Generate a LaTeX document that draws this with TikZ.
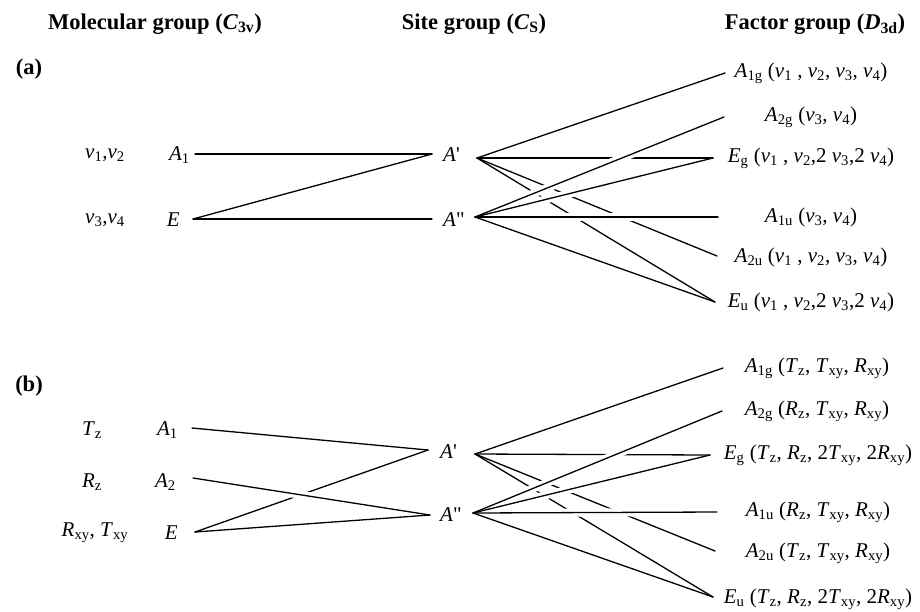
\documentclass[tikz,border=0pt]{standalone}
\usepackage{fontspec}
\setmainfont{Liberation Serif}
\newcommand\sym[2]{\textit{#1}\textsubscript{#2}}
\newcommand\nuu[1]{\textit{ν}\textsubscript{#1}}
\newcommand\Ap{\textit{A}\textquotesingle}
\newcommand\App{\textit{A}\textquotedbl}
\begin{document}
\begin{tikzpicture}[x=1pt,y=-1pt,
  every node/.style={font=\fontsize{21}{25}\selectfont, inner sep=0pt},
  hdr/.style={font=\fontsize{22.5}{27}\selectfont\bfseries},
  ln/.style={line width=1.3pt, line cap=round},
  halo/.style={draw=white, line width=8pt}]
\useasboundingbox (0,0) rectangle (920,611);
% headers
\node[hdr] (h1) at (155,24) {Molecular group (\textit{C}\textsubscript{3v})};
\node[hdr] (h2) at (474,24) {Site group (\textit{C}\textsubscript{S})};
\node[hdr] (h3) at (815,24) {Factor group (\textit{D}\textsubscript{3d})};
\node[hdr] (la) at (29,69) {(a)};
\node[hdr] (lb) at (29,386) {(b)};
% ---------------- (a) ----------------
\node (an12) at (105,155) {\nuu{1},\nuu{2}};
\node (an34) at (105,220) {\nuu{3},\nuu{4}};
\node[anchor=east] (aA1) at (190,155) {\sym{A}{1}};
\node[anchor=east] (aE) at (180,220) {\textit{E}};
\node[anchor=west] (aAp) at (443,155) {\Ap};
\node[anchor=west] (aApp) at (443,220) {\App};
\node (aA1g) at (811,73) {\sym{A}{1g} (\nuu{1} , \nuu{2}, \nuu{3}, \nuu{4})};
\node (aA2g) at (811,117) {\sym{A}{2g} (\nuu{3}, \nuu{4})};
\node (aEg) at (811,158) {\sym{E}{g} (\nuu{1} , \nuu{2},2 \nuu{3},2 \nuu{4})};
\node (aA1u) at (811,217) {\sym{A}{1u} (\nuu{3}, \nuu{4})};
\node (aA2u) at (811,257) {\sym{A}{2u} (\nuu{1} , \nuu{2}, \nuu{3}, \nuu{4})};
\node (aEu) at (811,302) {\sym{E}{u} (\nuu{1} , \nuu{2},2 \nuu{3},2 \nuu{4})};
\coordinate (aA1s) at (195,154);
\coordinate (aEs) at (193,219);
\coordinate (aApL) at (432,154);
\coordinate (aAppL) at (432,219);
\coordinate (aApR) at (477,158);
\coordinate (aAppR) at (475,217);
\coordinate (aeA1g) at (725,73);
\coordinate (aeA2g) at (724,117);
\coordinate (aeEg) at (713,158);
\coordinate (aeA1u) at (718,217);
\coordinate (aeA2u) at (717,256);
\coordinate (aeEu) at (715,302);
\draw[ln] (aA1s) -- (aApL);
\draw[ln] (aEs) -- (aApL);
\draw[ln] (aEs) -- (aAppL);
\draw[ln] (aApR) -- (aeA1g);
\draw[ln] (aApR) -- (aeEg);
\draw[ln] (aApR) -- (aeA2u);
\draw[ln] (aApR) -- (aeEu);
\draw[halo, shorten <=12pt, shorten >=10pt] (aAppR) -- (aeA2g);
\draw[halo, shorten <=12pt, shorten >=110pt] (aAppR) -- (aeEg);
\draw[halo, shorten <=12pt, shorten >=10pt] (aAppR) -- (aeA1u);
\draw[ln] (aAppR) -- (aeA2g);
\draw[ln] (aAppR) -- (aeEg);
\draw[ln] (aAppR) -- (aeA1u);
\draw[ln] (aAppR) -- (aeEu);
% ---------------- (b) ----------------
\node (bTz) at (92,430) {\sym{T}{z}};
\node (bRz) at (92,482) {\sym{R}{z}};
\node (bRT) at (95,533) {\sym{R}{xy}, \sym{T}{xy}};
\node[anchor=east] (bA1) at (178,430) {\sym{A}{1}};
\node[anchor=east] (bA2) at (176,482) {\sym{A}{2}};
\node[anchor=east] (bE) at (178,533) {\textit{E}};
\node[anchor=west] (bAp) at (440,452) {\Ap};
\node[anchor=west] (bApp) at (440,515) {\App};
\node (bA1g) at (817,368) {\sym{A}{1g} (\sym{T}{z}, \sym{T}{xy}, \sym{R}{xy})};
\node (bA2g) at (817,411) {\sym{A}{2g} (\sym{R}{z}, \sym{T}{xy}, \sym{R}{xy})};
\node (bEg) at (818,455) {\sym{E}{g} (\sym{T}{z}, \sym{R}{z}, 2\sym{T}{xy}, 2\sym{R}{xy})};
\node (bA1u) at (818,512) {\sym{A}{1u} (\sym{R}{z}, \sym{T}{xy}, \sym{R}{xy})};
\node (bA2u) at (818,553) {\sym{A}{2u} (\sym{T}{z}, \sym{T}{xy}, \sym{R}{xy})};
\node (bEu) at (818,599) {\sym{E}{u} (\sym{T}{z}, \sym{R}{z}, 2\sym{T}{xy}, 2\sym{R}{xy})};
\coordinate (bA1s) at (192,428);
\coordinate (bA2s) at (193,478);
\coordinate (bEs) at (195,532);
\coordinate (bApL) at (428,450);
\coordinate (bAppL) at (430,515);
\coordinate (bApR) at (475,454);
\coordinate (bAppR) at (473,513);
\coordinate (beA1g) at (723,368);
\coordinate (beA2g) at (722,411);
\coordinate (beEg) at (710,455);
\coordinate (beA1u) at (717,512);
\coordinate (beA2u) at (715,551);
\coordinate (beEu) at (713,597);
\draw[ln] (bA1s) -- (bApL);
\draw[ln] (bEs) -- (bApL);
\draw[ln] (bEs) -- (bAppL);
\draw[halo, shorten <=12pt, shorten >=60pt] (bA2s) -- (bAppL);
\draw[ln] (bA2s) -- (bAppL);
\draw[ln] (bApR) -- (beA1g);
\draw[ln] (bApR) -- (beEg);
\draw[ln] (bApR) -- (beA2u);
\draw[ln] (bApR) -- (beEu);
\draw[halo, shorten <=12pt, shorten >=10pt] (bAppR) -- (beA2g);
\draw[halo, shorten <=12pt, shorten >=110pt] (bAppR) -- (beEg);
\draw[halo, shorten <=12pt, shorten >=10pt] (bAppR) -- (beA1u);
\draw[ln] (bAppR) -- (beA2g);
\draw[ln] (bAppR) -- (beEg);
\draw[ln] (bAppR) -- (beA1u);
\draw[ln] (bAppR) -- (beEu);
\end{tikzpicture}
\end{document}
